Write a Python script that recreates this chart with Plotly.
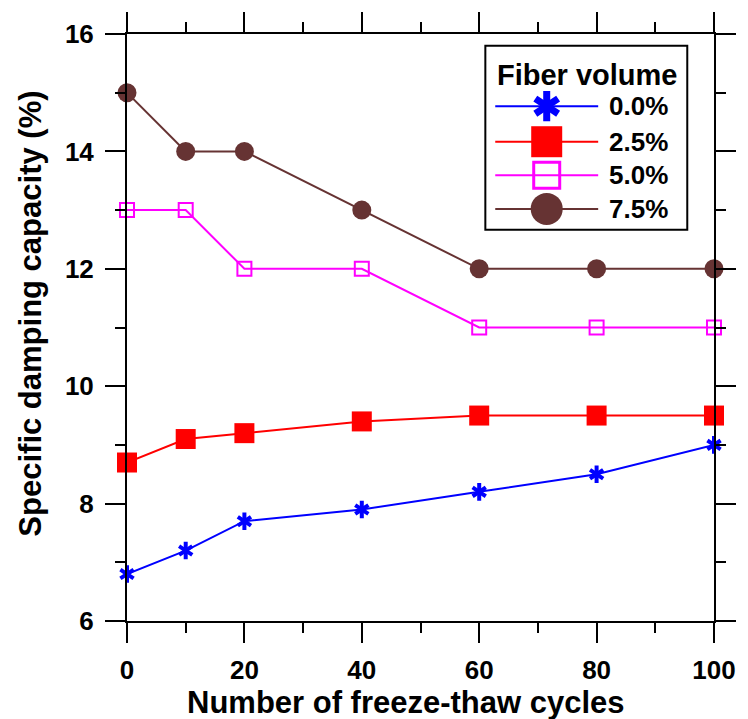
import plotly.graph_objects as go

cycles = [0, 10, 20, 40, 60, 80, 100]
series_names = ["0.0%", "2.5%", "5.0%", "7.5%"]
v00 = [6.8, 7.2, 7.7, 7.9, 8.2, 8.5, 9.0]
v25 = [8.7, 9.1, 9.2, 9.4, 9.5, 9.5, 9.5]
v50 = [13.0, 13.0, 12.0, 12.0, 11.0, 11.0, 11.0]
v75 = [15.0, 14.0, 14.0, 13.0, 12.0, 12.0, 12.0]
x_title = "Number of freeze-thaw cycles"
y_title = "Specific damping capacity (%)"
legend_title = "Fiber volume"

BLUE = "#0000FF"
RED = "#FF0000"
MAG = "#FF00FF"
BROWN = "#663333"
FONT = "Liberation Sans, Arial, sans-serif"

W, H = 748, 719
ML, MR, MT, MB = 127, 28, 27, 98
PW, PH = W - ML - MR, H - MT - MB


def px(xp):
    return (xp - ML) / PW


def py(yp):
    return (H - MB - yp) / PH


fig = go.Figure()

# data traces
fig.add_trace(go.Scatter(x=cycles, y=v00, mode="lines+markers", cliponaxis=False,
                         line=dict(color=BLUE, width=2),
                         marker=dict(symbol="y-up-open", size=11, color=BLUE, line=dict(color=BLUE, width=4)),
                         showlegend=False))
fig.add_trace(go.Scatter(x=cycles, y=v00, mode="markers", cliponaxis=False,
                         marker=dict(symbol="y-down-open", size=11, color=BLUE, line=dict(color=BLUE, width=4)),
                         showlegend=False))
fig.add_trace(go.Scatter(x=cycles, y=v25, mode="lines+markers", cliponaxis=False,
                         line=dict(color=RED, width=2),
                         marker=dict(symbol="square", size=20, color=RED),
                         showlegend=False))
fig.add_trace(go.Scatter(x=cycles, y=v50, mode="lines+markers", cliponaxis=False,
                         line=dict(color=MAG, width=2),
                         marker=dict(symbol="square-open", size=14, color=MAG, line=dict(color=MAG, width=2)),
                         showlegend=False))
fig.add_trace(go.Scatter(x=cycles, y=v75, mode="lines+markers", cliponaxis=False,
                         line=dict(color=BROWN, width=2),
                         marker=dict(symbol="circle", size=19, color=BROWN),
                         showlegend=False))

# manual legend on a pixel-scaled overlay axis
leg_rows = [100, 136, 170, 204]
leg_line_x = [499, 603]
leg_mark_x = 551
leg_styles = [
    (BLUE, [dict(symbol="y-up-open", size=19, color=BLUE, line=dict(color=BLUE, width=7)),
            dict(symbol="y-down-open", size=19, color=BLUE, line=dict(color=BLUE, width=7))]),
    (RED, [dict(symbol="square", size=31, color=RED)]),
    (MAG, [dict(symbol="square-open", size=26, color=MAG, line=dict(color=MAG, width=3))]),
    (BROWN, [dict(symbol="circle", size=32, color=BROWN)]),
]
for ry, (col, marks) in zip(leg_rows, leg_styles):
    fig.add_trace(go.Scatter(x=leg_line_x, y=[ry, ry], mode="lines", xaxis="x2", yaxis="y2",
                             line=dict(color=col, width=2), showlegend=False, hoverinfo="skip",
                             cliponaxis=False))
    for m in marks:
        fig.add_trace(go.Scatter(x=[leg_mark_x], y=[ry], mode="markers", xaxis="x2", yaxis="y2",
                                 marker=m, showlegend=False, hoverinfo="skip", cliponaxis=False))

annotations = []
for ry, name in zip(leg_rows, series_names):
    annotations.append(dict(x=612, y=ry, xref="x2", yref="y2", text=name, showarrow=False,
                            xanchor="left", yanchor="middle",
                            font=dict(family=FONT, size=26, color="black", weight="bold")))
annotations.append(dict(x=592, y=68, xref="x2", yref="y2", text=legend_title, showarrow=False,
                        xanchor="center", yanchor="middle",
                        font=dict(family=FONT, size=29, color="black", weight="bold")))
annotations.append(dict(x=px(408.5), y=py(703), xref="paper", yref="paper", text=x_title, showarrow=False,
                        xanchor="center", yanchor="middle",
                        font=dict(family=FONT, size=31, color="black", weight="bold")))
annotations.append(dict(x=px(30), y=py(310), xref="paper", yref="paper", text=y_title, showarrow=False,
                        textangle=-90, xanchor="center", yanchor="middle",
                        font=dict(family=FONT, size=31, color="black", weight="bold")))

axis_common = dict(showline=True, linecolor="black", linewidth=2, mirror="allticks",
                   ticks="outside", ticklen=20, tickwidth=2, tickcolor="black",
                   showgrid=False, zeroline=False,
                   tickfont=dict(family=FONT, size=26, color="black", weight="bold"))

fig.update_layout(
    width=W, height=H,
    margin=dict(l=ML, r=MR, t=MT, b=MB, pad=0),
    paper_bgcolor="white", plot_bgcolor="white",
    showlegend=False,
    xaxis=dict(range=[0, 100], tick0=0, dtick=20,
               minor=dict(dtick=10, ticklen=10, tickwidth=2, tickcolor="black", ticks="outside"),
               ticklabelstandoff=5, **axis_common),
    yaxis=dict(range=[6, 16], tick0=6, dtick=2,
               minor=dict(dtick=1, ticklen=10, tickwidth=2, tickcolor="black", ticks="outside"),
               ticklabelstandoff=6, **axis_common),
    xaxis2=dict(range=[ML, W - MR], overlaying="x", visible=False, fixedrange=True),
    yaxis2=dict(range=[H - MB, MT], overlaying="y", visible=False, fixedrange=True),
    shapes=[dict(type="rect", xref="x2", yref="y2", x0=489, x1=693, y0=39, y1=225,
                 line=dict(color="black", width=2), layer="below", fillcolor="white")],
    annotations=annotations,
)

post = ("document.body.style.margin='0';"
        "var d=document.getElementById('{plot_id}');"
        "d.style.position='absolute';d.style.left='0px';d.style.top='0px';")
fig.write_html("out.html", post_script=post, config={"displayModeBar": False})
